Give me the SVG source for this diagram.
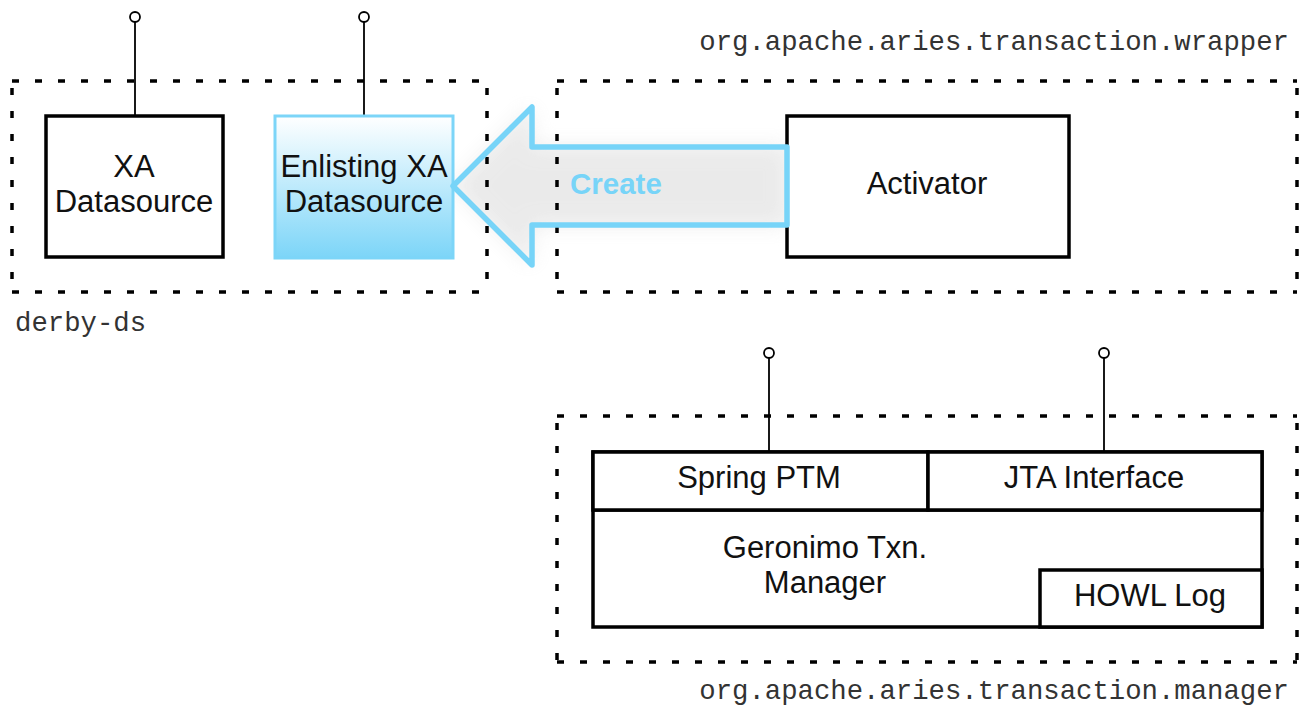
<svg xmlns="http://www.w3.org/2000/svg" width="1304" height="707" viewBox="0 0 1304 707">
<style>
.dot{fill:none;stroke:#000;stroke-width:3.5;stroke-dasharray:7 16;}
.box{fill:#fff;stroke:#000;stroke-width:3.5;}
.lolli{fill:none;stroke:#000;stroke-width:1.8;}
.lbl{font-family:"Liberation Sans",Arial,sans-serif;font-size:31px;fill:#111;text-anchor:middle;}
.mono{font-family:"Liberation Mono","Courier New",monospace;font-size:27.3px;fill:#333;}
</style>
<defs>
<linearGradient id="blueGrad" x1="0" y1="0" x2="0" y2="1">
<stop offset="0" stop-color="#ffffff"/>
<stop offset="1" stop-color="#7cd5f8"/>
</linearGradient>
<filter id="blur" x="-20%" y="-40%" width="140%" height="180%">
<feGaussianBlur stdDeviation="10"/>
</filter>
</defs>
<rect width="1304" height="707" fill="#fff"/>

<g id="create-shadow">
<polygon points="453,186 532,107 532,147 787,147 787,225 532,225 532,265" fill="#c8c8c8" opacity="0.35" filter="url(#blur)"/>
<polygon points="453,186 532,107 532,147 787,147 787,225 532,225 532,265" fill="#e6e6e6" fill-opacity="0.25"/>
</g>

<g id="connectors">
<line class="lolli" x1="135" y1="22" x2="135" y2="116"/>
<circle class="lolli" cx="135" cy="17" r="5"/>
<line class="lolli" x1="364" y1="22" x2="364" y2="116"/>
<circle class="lolli" cx="364" cy="17" r="5"/>
<line class="lolli" x1="769" y1="358" x2="769" y2="452"/>
<circle class="lolli" cx="769" cy="353" r="5"/>
<line class="lolli" x1="1104" y1="358" x2="1104" y2="452"/>
<circle class="lolli" cx="1104" cy="353" r="5"/>
</g>

<g id="xa-datasource">
<rect class="box" x="46" y="116" width="177" height="141"/>
<text class="lbl" x="134" y="177">XA</text>
<text class="lbl" x="134" y="212">Datasource</text>
</g>

<g id="enlisting-xa-datasource">
<rect x="275" y="116" width="178" height="142" fill="url(#blueGrad)" stroke="#7cd5f8" stroke-width="3"/>
<text class="lbl" x="364" y="177">Enlisting XA</text>
<text class="lbl" x="364" y="212">Datasource</text>
</g>

<g id="activator">
<rect class="box" x="787" y="116" width="282" height="141"/>
<text class="lbl" x="927" y="194">Activator</text>
</g>

<g id="geronimo-txn-manager">
<rect class="box" x="593" y="452" width="669" height="175"/>
<line x1="593" y1="510" x2="1262" y2="510" stroke="#000" stroke-width="3.5"/>
<text class="lbl" x="825" y="558">Geronimo Txn.</text>
<text class="lbl" x="825" y="593">Manager</text>
</g>

<g id="spring-ptm">
<rect class="box" x="593" y="452" width="335" height="58"/>
<text class="lbl" x="759" y="488">Spring PTM</text>
</g>

<g id="jta-interface">
<rect class="box" x="928" y="452" width="334" height="58"/>
<text class="lbl" x="1094" y="488">JTA Interface</text>
</g>

<g id="howl-log">
<rect class="box" x="1040" y="570" width="222" height="57"/>
<text class="lbl" x="1150" y="606">HOWL Log</text>
</g>

<g id="derby-ds">
<line class="dot" x1="12" y1="81" x2="487" y2="81"/>
<line class="dot" x1="12" y1="292" x2="487" y2="292"/>
<line class="dot" x1="12" y1="88" x2="12" y2="292"/>
<line class="dot" x1="487" y1="88" x2="487" y2="292"/>
<text class="mono" x="15" y="331">derby-ds</text>
</g>

<g id="wrapper">
<line class="dot" x1="557" y1="81" x2="1297" y2="81"/>
<line class="dot" x1="557" y1="292" x2="1297" y2="292"/>
<line class="dot" x1="557" y1="88" x2="557" y2="292"/>
<line class="dot" x1="1297" y1="88" x2="1297" y2="292"/>
<text class="mono" x="1289" y="50" text-anchor="end">org.apache.aries.transaction.wrapper</text>
</g>

<g id="manager-bundle">
<line class="dot" x1="557" y1="416" x2="1297" y2="416"/>
<line class="dot" x1="557" y1="662" x2="1297" y2="662"/>
<line class="dot" x1="557" y1="423" x2="557" y2="662"/>
<line class="dot" x1="1297" y1="423" x2="1297" y2="662"/>
<text class="mono" x="1289" y="699" text-anchor="end">org.apache.aries.transaction.manager</text>
</g>

<g id="create-arrow">
<polygon points="453,186 532,107 532,147 787,147 787,225 532,225 532,265" fill="none" stroke="#77d4f8" stroke-width="5.5" stroke-linejoin="round"/>
<text x="570" y="194" font-family="Liberation Sans,Arial,sans-serif" font-size="29.5" font-weight="bold" fill="#77d4f8">Create</text>
</g>
</svg>
